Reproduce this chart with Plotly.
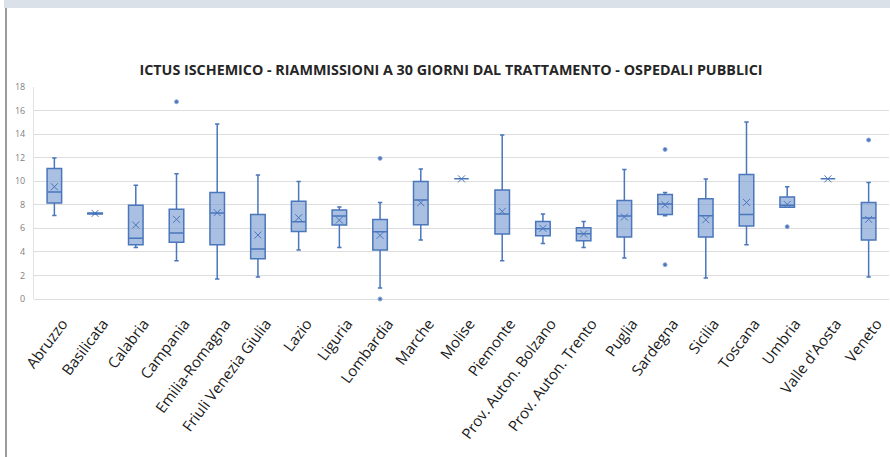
import plotly.graph_objects as go

# Regional box-plot statistics: 30-day readmission rate (%) after ischemic stroke
regioni = [
    "Abruzzo", "Basilicata", "Calabria", "Campania", "Emilia-Romagna",
    "Friuli Venezia Giulia", "Lazio", "Liguria", "Lombardia", "Marche",
    "Molise", "Piemonte", "Prov. Auton. Bolzano", "Prov. Auton. Trento",
    "Puglia", "Sardegna", "Sicilia", "Toscana", "Umbria", "Valle d'Aosta",
    "Veneto",
]
minimo = [7.10, 7.20, 4.38, 3.25, 1.70, 1.87, 4.16, 4.38, 0.93, 5.01,
          10.20, 3.25, 4.72, 4.38, 3.48, 7.07, 1.78, 4.61, 7.78, 10.20, 1.87]
q1 = [8.15, 7.22, 4.61, 4.81, 4.61, 3.42, 5.74, 6.28, 4.16, 6.31,
      10.20, 5.52, 5.37, 4.95, 5.26, 7.18, 5.26, 6.20, 7.78, 10.20, 5.01]
mediana = [9.08, 7.27, 5.15, 5.60, 7.30, 4.24, 6.56, 7.04, 5.71, 8.40,
           10.20, 7.21, 5.97, 5.54, 7.04, 8.06, 7.07, 7.18, 7.95, 10.20, 6.88]
q3 = [11.09, 7.31, 7.95, 7.61, 9.05, 7.18, 8.29, 7.55, 6.76, 9.98,
      10.20, 9.25, 6.59, 6.05, 8.37, 8.88, 8.51, 10.58, 8.66, 10.20, 8.20]
massimo = [11.97, 7.33, 9.65, 10.64, 14.85, 10.52, 9.98, 7.81, 8.20, 11.03,
           10.20, 13.92, 7.21, 6.59, 11.00, 9.05, 10.19, 15.02, 9.53, 10.20, 9.90]
media = [9.53, 7.27, 6.28, 6.76, 7.33, 5.43, 6.90, 6.70, 5.40, 8.17,
         10.20, 7.44, 6.00, 5.52, 6.96, 8.00, 6.73, 8.20, 8.03, 10.20, 6.76]

# Outlying hospitals
outlier_regioni = ["Campania", "Lombardia", "Lombardia", "Sardegna",
                   "Sardegna", "Umbria", "Veneto"]
outlier_valori = [16.75, 11.94, 0.0, 12.70, 2.91, 6.14, 13.50]

y_ticks = [0, 2, 4, 6, 8, 10, 12, 14, 16, 18]

titolo = ("ICTUS ISCHEMICO - RIAMMISSIONI A 30 GIORNI DAL TRATTAMENTO - "
          "OSPEDALI PUBBLICI")

W, H = 890, 457
ML, MR, MT, MB = 34, 1, 87, 158
PW, PH = W - ML - MR, H - MT - MB

BLU = "#4A76BC"
RIEMPIMENTO = "rgba(125,158,212,0.65)"

fig = go.Figure()

fig.add_trace(go.Box(
    x=regioni,
    q1=q1,
    median=mediana,
    q3=q3,
    lowerfence=minimo,
    upperfence=massimo,
    boxpoints=False,
    fillcolor=RIEMPIMENTO,
    line=dict(color=BLU, width=1.5),
    whiskerwidth=0.3,
    showlegend=False,
    hoverinfo="skip",
))

fig.add_trace(go.Scatter(
    x=regioni,
    y=media,
    mode="markers",
    marker=dict(symbol="x-thin", size=7, line=dict(color=BLU, width=1)),
    showlegend=False,
    cliponaxis=False,
))

fig.add_trace(go.Scatter(
    x=outlier_regioni,
    y=outlier_valori,
    mode="markers",
    marker=dict(symbol="circle", size=4, color=BLU,
                line=dict(color="#8FA9D6", width=1)),
    showlegend=False,
    cliponaxis=False,
))

# Page decorations: header strip and left rule
px_x = lambda p: (p - ML) / PW
px_y = lambda p: 1 - (p - MT) / PH
fig.add_shape(type="rect", xref="paper", yref="paper",
              x0=px_x(4), x1=px_x(890), y0=px_y(8), y1=px_y(0),
              fillcolor="#DAE1E8", line=dict(width=0), layer="below")
fig.add_shape(type="line", xref="paper", yref="paper",
              x0=px_x(6), x1=px_x(6), y0=px_y(8), y1=px_y(457),
              line=dict(color="#7A7A7A", width=1.5))

fig.update_layout(
    width=W, height=H,
    margin=dict(l=ML, r=MR, t=MT, b=MB),
    paper_bgcolor="white",
    plot_bgcolor="white",
    boxgap=0.49,
    title=dict(
        text=titolo,
        x=(451 - ML) / PW, xref="paper", xanchor="center",
        y=1 - 69.5 / H, yanchor="middle",
        font=dict(family="Open Sans", size=14.3, color="#262626", weight="bold"),
    ),
    xaxis=dict(
        type="category",
        categoryorder="array",
        categoryarray=regioni,
        tickangle=-53,
        tickfont=dict(family="Open Sans", size=15, color="#1A1A1A"),
        ticklabelstandoff=12,
        ticklabelshift=8,
        showgrid=False,
        showline=False,
        ticks="",
        range=[-0.5, len(regioni) - 0.5],
    ),
    yaxis=dict(
        range=[0, 18],
        tickvals=y_ticks,
        tickfont=dict(family="Open Sans", size=9, color="#7F7F7F"),
        gridcolor="#DDDDDD",
        gridwidth=1,
        zeroline=True,
        zerolinecolor="#DDDDDD",
        zerolinewidth=1,
        showline=True,
        linecolor="#E3E3E3",
        linewidth=1,
        ticks="outside",
        ticklen=6,
        tickcolor="rgba(0,0,0,0)",
    ),
)

fig.write_html("out.html")
